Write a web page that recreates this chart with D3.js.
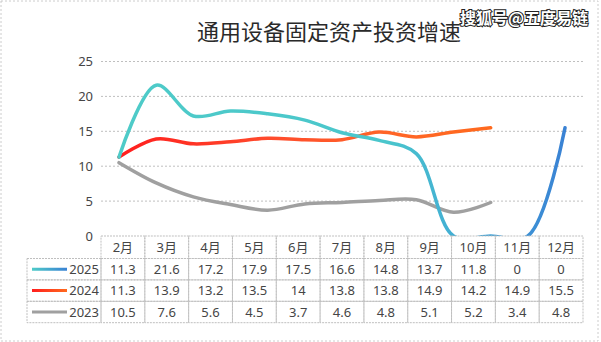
<!DOCTYPE html>
<html><head><meta charset="utf-8">
<script src="https://cdn.jsdelivr.net/npm/d3@7/dist/d3.min.js"></script>
<style>body{margin:0;background:#fff;} svg{display:block;}</style>
</head><body><svg id="c" width="601" height="342"></svg>
<script>
const titleText = "通用设备固定资产投资增速";
const watermarkText = "搜狐号@五度易链";
const categories = ["2月","3月","4月","5月","6月","7月","8月","9月","10月","11月","12月"];
const seriesNames = ["2025","2024","2023"];
// data table values
const table2025 = [11.3,21.6,17.2,17.9,17.5,16.6,14.8,13.7,11.8,0,0];
const table2024 = [11.3,13.9,13.2,13.5,14,13.8,13.8,14.9,14.2,14.9,15.5];
const table2023 = [10.5,7.6,5.6,4.5,3.7,4.6,4.8,5.1,5.2,3.4,4.8];
// plotted line values (as drawn in the picture, 13 slots along the axis)
const line2025 = [11.3,21.6,17.2,17.9,17.5,16.6,14.8,13.7,11.8,0,0,0,15.5];
const line2024 = [11.3,13.9,13.2,13.5,14,13.8,13.8,14.9,14.2,14.9,15.5];
const line2023 = [10.5,7.6,5.6,4.5,3.7,4.6,4.8,5.1,5.2,3.4,4.8];
const yTicks = [0,5,10,15,20,25];
const lineSlots = 13;

const svg = d3.select("#c");
const plot = {left:101, right:583, top:61.5, bottom:236};
const numFont = "'Noto Sans','Noto Sans CJK SC',sans-serif";
const txtCol = "#454545";
const gridCol = "#BFBFBF";

// outer dotted border
svg.append("rect").attr("x",1).attr("y",1).attr("width",597).attr("height",340)
  .attr("fill","none").attr("stroke","#CCCCCC").attr("stroke-dasharray","2,2");

const defs = svg.append("defs");

const y = d3.scaleLinear().domain([0,25]).range([plot.bottom, plot.top]);
const xBand = d3.scaleBand().domain(categories).range([plot.left, plot.right]);
const xLine = d3.scalePoint().domain(d3.range(lineSlots)).range([plot.left, plot.right]).padding(0.484);

// gridlines
svg.append("g").selectAll("line").data(yTicks.filter(d=>d>0)).join("line")
  .attr("x1",plot.left).attr("x2",plot.right)
  .attr("y1",d=>y(d)).attr("y2",d=>y(d))
  .attr("stroke",gridCol).attr("stroke-dasharray","2,2").attr("stroke-width",1);

// y labels
svg.append("g").selectAll("text").data(yTicks).join("text")
  .attr("x",93).attr("y",d=>y(d)).attr("dy","0.35em")
  .attr("text-anchor","end").attr("font-family",numFont).attr("font-size",13)
  .attr("fill",txtCol).text(d=>d);

// clip for lines
defs.append("clipPath").attr("id","plotclip").append("rect")
  .attr("x",plot.left-5).attr("y",plot.top-20).attr("width",plot.right-plot.left+10)
  .attr("height",plot.bottom-plot.top+20);

function grad(id, x1, x2, stops){
  const g = defs.append("linearGradient").attr("id",id).attr("gradientUnits","userSpaceOnUse")
    .attr("x1",x1).attr("x2",x2).attr("y1",0).attr("y2",0);
  stops.forEach(s=>g.append("stop").attr("offset",s[0]).attr("stop-color",s[1]));
}
grad("g2025", xLine(0), xLine(lineSlots-1), [[0,"#4ECBC8"],[0.6,"#4AC6CC"],[0.8,"#40A6D6"],[1,"#3A82D4"]]);
grad("g2024", xLine(0), xLine(line2024.length-1), [[0,"#FF1E1E"],[0.4,"#FF4A2C"],[0.7,"#FF6428"],[1,"#FF6A1E"]]);
grad("lg2025", 32, 67, [[0,"#4ECBC8"],[1,"#3A82D4"]]);
grad("lg2024", 32, 67, [[0,"#FF1E1E"],[1,"#FF6A1E"]]);

const lineGen = d3.line().x((d,i)=>xLine(i)).y(d=>y(d)).curve(d3.curveCatmullRom.alpha(0.5));

const series = [
  {name:"2025", line:line2025, table:table2025, stroke:"url(#g2025)", legend:"url(#lg2025)"},
  {name:"2024", line:line2024, table:table2024, stroke:"url(#g2024)", legend:"url(#lg2024)"},
  {name:"2023", line:line2023, table:table2023, stroke:"#A0A0A0", legend:"#A0A0A0"}
];

const lg = svg.append("g").attr("clip-path","url(#plotclip)");
[series[2], series[1], series[0]].forEach(s=>{
  lg.append("path").attr("d", lineGen(s.line)).attr("fill","none")
    .attr("stroke", s.stroke).attr("stroke-width",3.5).attr("stroke-linejoin","round").attr("stroke-linecap","round");
});

// data table
const headerTop = plot.bottom, headerH = 22.5, rowH = 21.4;
const legLeft = 27;
const tbl = svg.append("g");
const borderAttr = sel => sel.attr("stroke",gridCol).attr("stroke-dasharray","2,1").attr("stroke-width",1).attr("fill","none");
categories.forEach(c=>{
  tbl.append("rect").attr("x",xBand(c)).attr("y",headerTop).attr("width",xBand.bandwidth()).attr("height",headerH).call(borderAttr);
  tbl.append("text").attr("x",xBand(c)+xBand.bandwidth()/2).attr("y",headerTop+headerH/2).attr("dy","0.36em")
    .attr("text-anchor","middle").attr("font-family",numFont).attr("font-size",13).attr("fill",txtCol).text(c);
});
series.forEach((s,r)=>{
  const top = headerTop + headerH + r*rowH;
  tbl.append("rect").attr("x",legLeft).attr("y",top).attr("width",plot.left-legLeft).attr("height",rowH).call(borderAttr);
  tbl.append("line").attr("x1",32).attr("x2",67).attr("y1",top+rowH/2).attr("y2",top+rowH/2)
    .attr("stroke",s.legend).attr("stroke-width",3);
  tbl.append("text").attr("x",99).attr("y",top+rowH/2).attr("dy","0.36em").attr("text-anchor","end")
    .attr("font-family",numFont).attr("font-size",13).attr("fill",txtCol).text(s.name);
  s.table.forEach((v,i)=>{
    const c = categories[i];
    tbl.append("rect").attr("x",xBand(c)).attr("y",top).attr("width",xBand.bandwidth()).attr("height",rowH).call(borderAttr);
    tbl.append("text").attr("x",xBand(c)+xBand.bandwidth()/2).attr("y",top+rowH/2).attr("dy","0.36em")
      .attr("text-anchor","middle").attr("font-family",numFont).attr("font-size",13).attr("fill",txtCol).text(v);
  });
});

// title
svg.append("text").attr("x",329).attr("y",40).attr("text-anchor","middle")
  .attr("font-family","'Noto Sans CJK SC',sans-serif").attr("font-size",22).attr("fill","#2a2a2a")
  .text(titleText);

// watermark
svg.append("text").attr("x",524).attr("y",24).attr("text-anchor","middle")
  .attr("font-family","'Noto Sans CJK SC',sans-serif").attr("font-size",16).attr("font-weight","bold")
  .attr("fill","#fff").attr("stroke","#222").attr("stroke-width",2).attr("paint-order","stroke")
  .text(watermarkText);
</script></body></html>
